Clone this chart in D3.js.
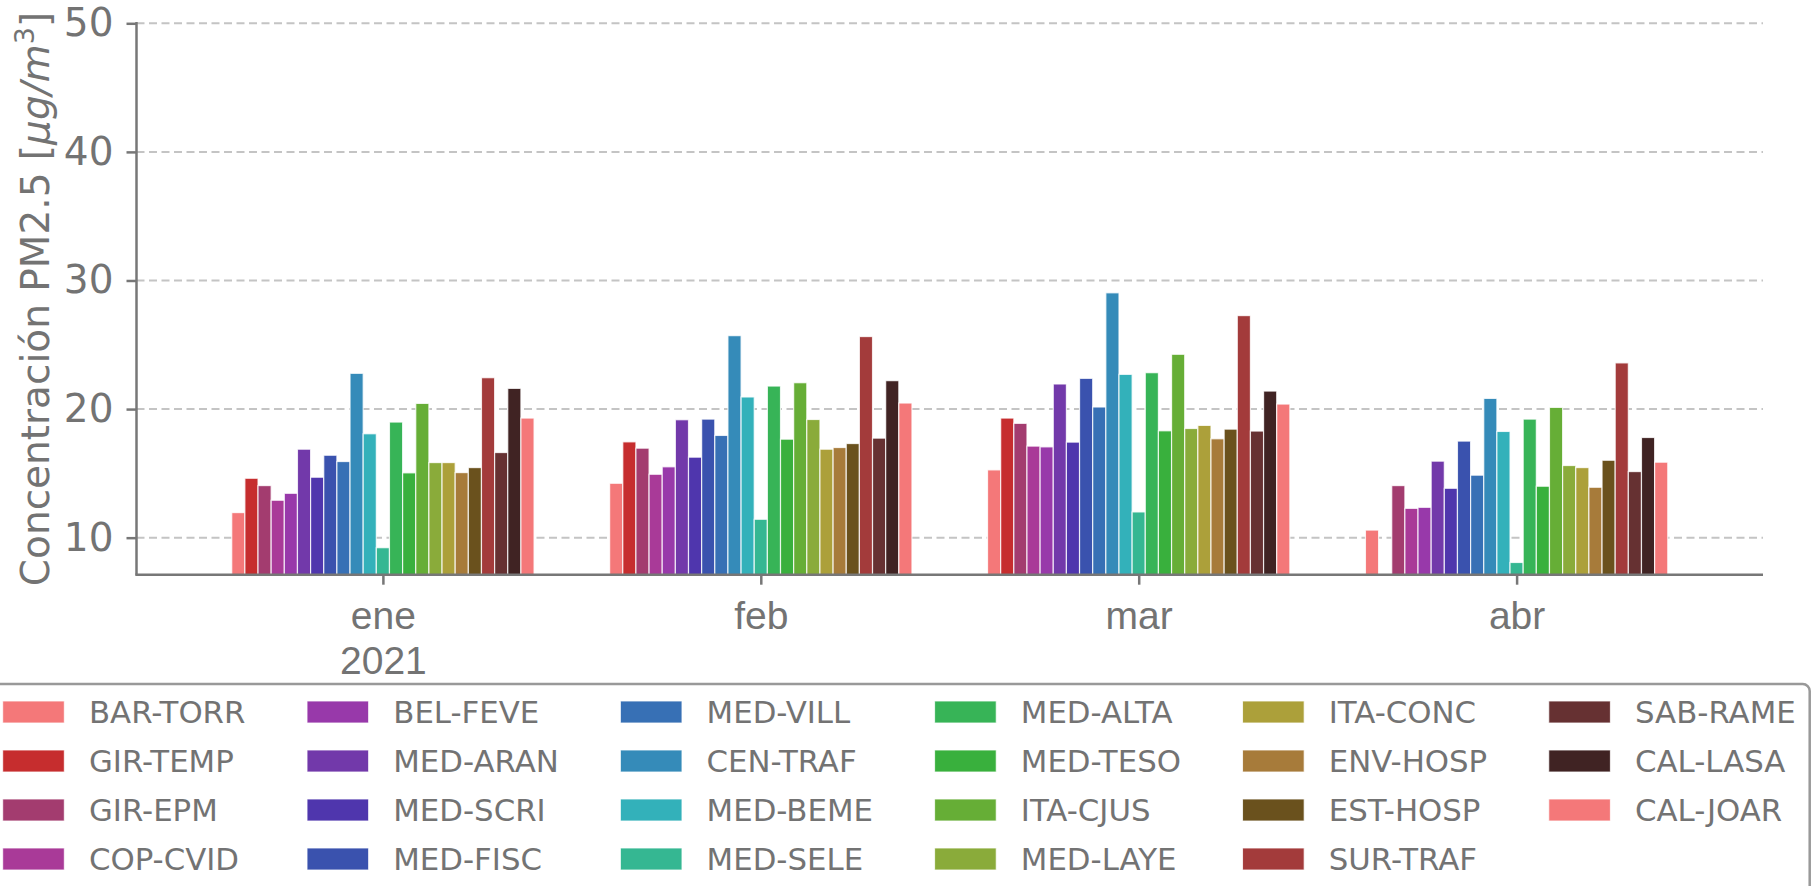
<!DOCTYPE html>
<html>
<head>
<meta charset="utf-8">
<script src="https://cdn.jsdelivr.net/npm/d3@7"></script>
<style>
  body { margin: 0; background: #fff; }
  svg { display: block; font-family: "DejaVu Sans", sans-serif; }
</style>
</head>
<body>
<svg width="1814" height="886"></svg>
<script>
// stations, in legend / bar order
const stations = ['BAR-TORR', 'GIR-TEMP', 'GIR-EPM', 'COP-CVID', 'BEL-FEVE', 'MED-ARAN', 'MED-SCRI', 'MED-FISC',
  'MED-VILL', 'CEN-TRAF', 'MED-BEME', 'MED-SELE', 'MED-ALTA', 'MED-TESO', 'ITA-CJUS', 'MED-LAYE',
  'ITA-CONC', 'ENV-HOSP', 'EST-HOSP', 'SUR-TRAF', 'SAB-RAME', 'CAL-LASA', 'CAL-JOAR'];

const stationColors = ['#f47879', '#c62d2e', '#a33c6f', '#a93a98', '#9839aa', '#7239aa', '#4f36ad', '#3a52ae',
  '#3770b5', '#358bb9', '#33b1ba', '#35b792', '#37b457', '#39b03d', '#66ae36', '#8aab3a',
  '#aca03a', '#a77b3a', '#6a511d', '#a33b3b', '#663132', '#402323', '#f47879'];

const months = ['ene', 'feb', 'mar', 'abr'];
const yearLabel = '2021';

// monthly mean PM2.5 per station (same order as stations)
const ene = [11.95, 14.62, 14.05, 12.91, 13.45, 16.88, 14.70, 16.41, 15.92, 22.78, 18.08, 9.22,
  18.99, 15.04, 20.44, 15.84, 15.84, 15.06, 15.45, 22.44, 16.62, 21.61, 19.30];
const feb = [14.23, 17.45, 16.96, 14.93, 15.51, 19.17, 16.26, 19.22, 17.95, 25.71, 20.94, 11.43,
  21.79, 17.66, 22.05, 19.19, 16.88, 17.01, 17.32, 25.64, 17.74, 22.21, 20.47];
const mar = [15.27, 19.30, 18.89, 17.12, 17.06, 21.95, 17.43, 22.39, 20.16, 29.04, 22.70, 12.00,
  22.83, 18.31, 24.26, 18.49, 18.73, 17.69, 18.44, 27.27, 18.29, 21.40, 20.39];
const abr = [10.59, null, 14.05, 12.28, 12.36, 15.95, 13.84, 17.51, 14.86, 20.83, 18.26, 8.07,
  19.22, 14.00, 20.13, 15.61, 15.45, 13.92, 16.02, 23.59, 15.14, 17.79, 15.87];

const yTicks = [10, 20, 30, 40, 50];

const axisColor = '#777777';
const textColor = '#737373';

const svg = d3.select('svg');

const plot = {left: 136.5, right: 1763, top: 23.3, bottom: 574.7};

const x = d3.scaleLinear().domain([-0.652, 3.652]).range([plot.left, plot.right]);
const xSub = d3.scaleBand().domain(stations).range([-0.4, 0.4]);
const y = d3.scaleLinear().domain([7.12, 50]).range([plot.bottom, plot.top]);
const color = d3.scaleOrdinal().domain(stations).range(stationColors);

// grid
svg.append('g')
  .selectAll('line')
  .data(yTicks)
  .enter().append('line')
    .attr('x1', plot.left)
    .attr('x2', plot.right)
    .attr('y1', d => y(d))
    .attr('y2', d => y(d))
    .style('stroke', '#c4c4c4')
    .style('stroke-width', 2)
    .style('stroke-dasharray', '8,4.5');

// bars
const rows = [];
[ene, feb, mar, abr].forEach((vals, mi) => {
  vals.forEach((v, si) => {
    if (v !== null) rows.push({month: mi, station: stations[si], value: v});
  });
});

const bw = x(xSub.bandwidth()) - x(0);

svg.append('g')
  .attr('class', 'bars')
  .selectAll('rect')
  .data(rows)
  .enter().append('rect')
    .attr('x', d => x(d.month + xSub(d.station)))
    .attr('width', bw)
    .attr('y', d => y(d.value))
    .attr('height', d => y(7.12) - y(d.value))
    .style('fill', d => color(d.station))
    .style('stroke', '#ffffff')
    .style('stroke-opacity', 0.8)
    .style('stroke-width', 1.2);

// y axis
const yAxis = svg.append('g')
  .attr('transform', 'translate(' + plot.left + ',0)')
  .call(d3.axisLeft(y).tickValues(yTicks).tickSize(10).tickPadding(13).tickFormat(d3.format('d')));
yAxis.select('.domain').remove();
yAxis.selectAll('line').style('stroke', axisColor).style('stroke-width', 2.5);
yAxis.selectAll('text')
  .style('font-size', '39px')
  .style('fill', textColor)
  .style('font-family', '"DejaVu Sans", sans-serif');

svg.append('line')
  .attr('x1', plot.left).attr('x2', plot.left)
  .attr('y1', y(50) - 1.2).attr('y2', plot.bottom)
  .style('stroke', axisColor).style('stroke-width', 2.5);

// x axis
const xAxis = svg.append('g')
  .attr('transform', 'translate(0,' + plot.bottom + ')')
  .call(d3.axisBottom(x).tickValues([0, 1, 2, 3]).tickSize(10).tickFormat(d => months[d]));
xAxis.select('.domain').remove();
xAxis.selectAll('line').style('stroke', axisColor).style('stroke-width', 2.5);
xAxis.selectAll('text').remove();
xAxis.selectAll('.tick')
  .append('text')
    .attr('y', 54)
    .attr('text-anchor', 'middle')
    .style('font-size', '39px')
    .style('fill', textColor)
    .text(d => months[d]);
xAxis.selectAll('.tick')
  .filter(d => d === 0)
  .append('text')
    .attr('y', 99)
    .attr('text-anchor', 'middle')
    .style('font-size', '39px')
    .style('fill', textColor)
    .text(yearLabel);

svg.append('line')
  .attr('x1', plot.left - 1.2).attr('x2', plot.right)
  .attr('y1', plot.bottom).attr('y2', plot.bottom)
  .style('stroke', axisColor).style('stroke-width', 2.5);

// y label
const ylab = svg.append('text')
  .attr('transform', 'translate(49,' + ((plot.top + plot.bottom) / 2) + ') rotate(-90)')
  .attr('text-anchor', 'middle')
  .style('font-size', '39px')
  .style('fill', textColor);
ylab.append('tspan').text('Concentración PM2.5 [');
ylab.append('tspan').style('font-style', 'italic').text('μg/m');
ylab.append('tspan').attr('dy', -15).style('font-size', '27px').text('3');
ylab.append('tspan').attr('dy', 15).text(']');

// legend
const fs = 30.8;
const nRows = 4;
const legend = svg.append('g').attr('class', 'legend');
const legendTop = 684;
const rowY = i => 712 + i * 49;

const frame = legend.append('rect');

const cols = d3.range(Math.ceil(stations.length / nRows));
let colX = 2.7, lastEnd = 0;
cols.forEach(c => {
  const items = stations.slice(c * nRows, c * nRows + nRows);
  let maxW = 0;
  items.forEach((s, r) => {
    legend.append('rect')
      .attr('x', colX)
      .attr('y', rowY(r) - 11)
      .attr('width', 2 * fs)
      .attr('height', 22)
      .style('fill', color(s))
      .style('stroke', '#ffffff')
      .style('stroke-opacity', 0.8)
      .style('stroke-width', 1);
    const t = legend.append('text')
      .attr('x', colX + 2.8 * fs)
      .attr('y', rowY(r))
      .attr('dy', '0.36em')
      .style('font-size', fs + 'px')
      .style('fill', textColor)
      .text(s);
    maxW = Math.max(maxW, t.node().getComputedTextLength());
  });
  lastEnd = colX + 2.8 * fs + maxW;
  colX = lastEnd + 2 * fs;
});

frame
  .attr('x', -20)
  .attr('y', legendTop)
  .attr('width', Math.min(lastEnd + 14, 1812) + 20)
  .attr('height', 240)
  .attr('rx', 7)
  .style('fill', '#ffffff')
  .style('stroke', '#999999')
  .style('stroke-width', 2.5);
</script>
</body>
</html>
